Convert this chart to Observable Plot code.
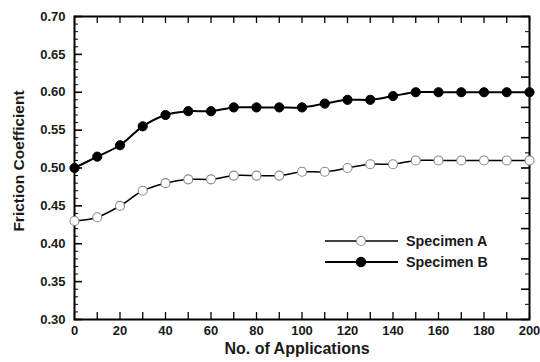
<!DOCTYPE html>
<html><head><meta charset="utf-8">
<script src="https://cdn.jsdelivr.net/npm/d3@7"></script>
<script src="https://cdn.jsdelivr.net/npm/@observablehq/plot@0.6"></script>
<style>
body{margin:0;background:#fff}
#wrap{position:relative;width:540px;height:362px;font-family:"Liberation Sans",Arial,sans-serif}
#legend{position:absolute;left:0;top:0}
</style>
</head><body><div id="wrap"></div>
<script>
const applications = [0,10,20,30,40,50,60,70,80,90,100,110,120,130,140,150,160,170,180,190,200];
const specimenA = [0.430,0.435,0.450,0.470,0.480,0.485,0.485,0.490,0.490,0.490,0.495,0.495,0.500,0.505,0.505,0.510,0.510,0.510,0.510,0.510,0.510];
const specimenB = [0.500,0.515,0.530,0.555,0.570,0.575,0.575,0.580,0.580,0.580,0.580,0.585,0.590,0.590,0.595,0.600,0.600,0.600,0.600,0.600,0.600];
const seriesNames = ["Specimen A","Specimen B"];
const yTickLabels = [0.30,0.35,0.40,0.45,0.50,0.55,0.60,0.65,0.70];
const xTickLabels = [0,20,40,60,80,100,120,140,160,180,200];
const yMinorTicks = d3.range(30,71,1).map(v=>v/100);
const yRightTicks = d3.range(30,71,2).map(v=>v/100);
const xMinorTicks = d3.range(0,201,10);
const xTitle = "No. of Applications";
const yTitle = "Friction Coefficient";

const W=540,H=362, ml=74, mr=11, mt=16, mb=43;
const iw=W-ml-mr, ih=H-mt-mb;
const font='"Liberation Sans", Arial, sans-serif';

const rowsA = applications.map((x,i)=>({x, y:specimenA[i]}));
const rowsB = applications.map((x,i)=>({x, y:specimenB[i]}));

const isMajorY = v => Math.abs(Math.round(v*100)%5)===0;
const isLongRight = v => Math.round(v*100)%4===2;

const chart = Plot.plot({
  width: W, height: H,
  marginLeft: ml, marginRight: mr, marginTop: mt, marginBottom: mb,
  x: {domain:[0,200]},
  y: {domain:[0.30,0.70]},
  style: {fontFamily: font, fontWeight: "bold", fontSize: "13px", color: "#1a1a1a", background: "#fff"},
  marks: [
    Plot.tickY(yMinorTicks.filter(v=>!isMajorY(v)), {y:d=>d, insetRight: iw-4, stroke:"#000", strokeWidth:1}),
    Plot.tickY(yMinorTicks.filter(isMajorY), {y:d=>d, insetRight: iw-8, stroke:"#000", strokeWidth:1.6}),
    Plot.tickY(yRightTicks.filter(v=>!isLongRight(v)), {y:d=>d, insetLeft: iw-4, stroke:"#000", strokeWidth:1}),
    Plot.tickY(yRightTicks.filter(isLongRight), {y:d=>d, insetLeft: iw-8, stroke:"#000", strokeWidth:1.6}),
    Plot.tickX(xMinorTicks, {x:d=>d, insetTop: ih-7, stroke:"#000", strokeWidth:1.3}),
    Plot.tickX(xMinorTicks, {x:d=>d, insetBottom: ih-7, stroke:"#000", strokeWidth:1.3}),
    Plot.axisY({ticks: yTickLabels, tickSize: 0, tickPadding: 9, tickFormat: d=>d.toFixed(2), label: null, fontSize: 13}),
    Plot.axisX({ticks: xTickLabels, tickSize: 0, tickPadding: 6, tickFormat: d=>String(d), label: null, fontSize: 13}),
    Plot.text([xTitle], {text:d=>d, frameAnchor:"bottom", dy: 34, dx: -5, fontSize: 16, fontWeight:"bold", fill:"#1a1a1a"}),
    Plot.text([yTitle], {text:d=>d, frameAnchor:"left", textAnchor:"middle", rotate:-90, dx: -55, dy: -7, fontSize: 15.5, fontWeight:"bold", fill:"#1a1a1a"}),
    Plot.frame({stroke:"#000", strokeWidth: 2}),
    Plot.line(rowsA, {x:"x", y:"y", curve:"catmull-rom", stroke:"#000", strokeWidth:1.5}),
    Plot.line(rowsB, {x:"x", y:"y", curve:"catmull-rom", stroke:"#000", strokeWidth:2}),
    Plot.dot(rowsA, {x:"x", y:"y", r:4.5, fill:"#fff", stroke:"#888", strokeWidth:1.1}),
    Plot.dot(rowsB, {x:"x", y:"y", r:4.6, fill:"#000", stroke:"#000", strokeWidth:1})
  ]
});
const wrap = document.getElementById("wrap");
wrap.appendChild(chart);

const ns = "http://www.w3.org/2000/svg";
const lg = document.createElementNS(ns,"svg");
lg.setAttribute("id","legend"); lg.setAttribute("width",W); lg.setAttribute("height",H);
const styles = [
  {fill:"#fff", stroke:"#888", sw:1.5, r:4.5},
  {fill:"#000", stroke:"#000", sw:2, r:4.6}
];
seriesNames.forEach((name,i)=>{
  const y = 241 + i*21;
  const s = styles[i];
  const ln = document.createElementNS(ns,"line");
  ln.setAttribute("x1",325); ln.setAttribute("x2",398); ln.setAttribute("y1",y); ln.setAttribute("y2",y);
  ln.setAttribute("stroke","#000"); ln.setAttribute("stroke-width",s.sw);
  lg.appendChild(ln);
  const c = document.createElementNS(ns,"circle");
  c.setAttribute("cx",361); c.setAttribute("cy",y); c.setAttribute("r",s.r);
  c.setAttribute("fill",s.fill); c.setAttribute("stroke",s.stroke); c.setAttribute("stroke-width",1.1);
  lg.appendChild(c);
  const t = document.createElementNS(ns,"text");
  t.setAttribute("x",406); t.setAttribute("y",y+5);
  t.setAttribute("font-family",font); t.setAttribute("font-weight","bold"); t.setAttribute("font-size","14.3");
  t.setAttribute("fill","#1a1a1a");
  t.textContent = name;
  lg.appendChild(t);
});
wrap.appendChild(lg);
</script>
</body></html>
